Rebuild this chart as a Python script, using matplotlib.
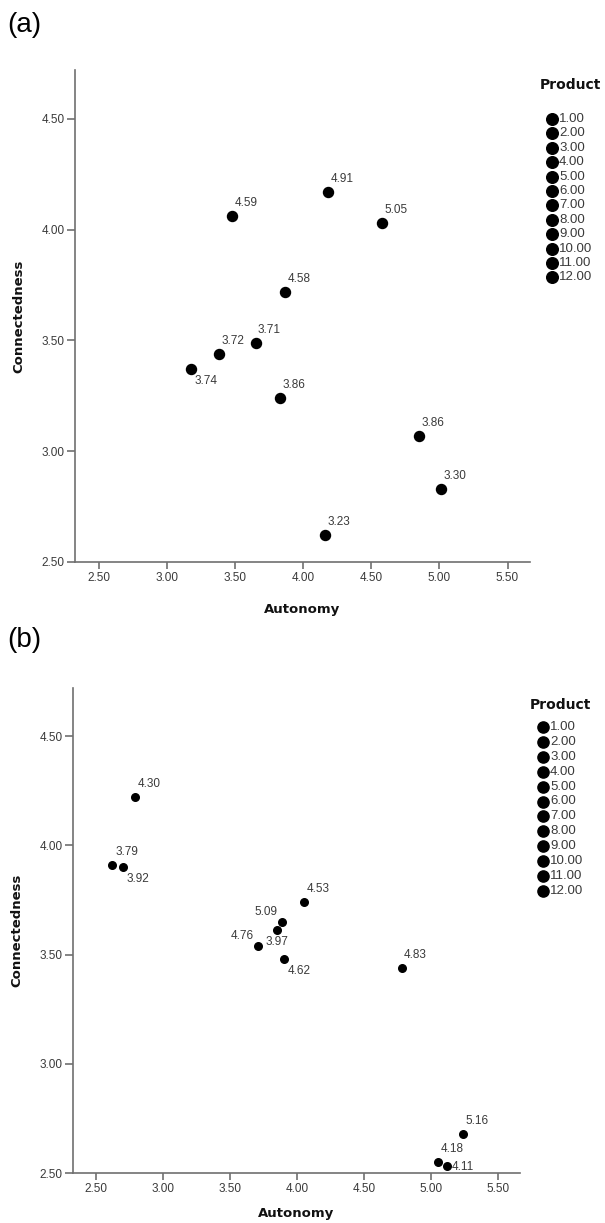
import matplotlib
matplotlib.use('Agg')
import matplotlib.pyplot as plt

# panel (a)
a_autonomy = [3.48, 4.18, 4.58, 3.87, 3.65, 3.38, 3.18, 3.83, 4.85, 5.01, 4.16]
a_connect = [4.06, 4.17, 4.03, 3.72, 3.49, 3.44, 3.37, 3.24, 3.07, 2.83, 2.62]
a_labels = ['4.59', '4.91', '5.05', '4.58', '3.71', '3.72', '3.74', '3.86', '3.86', '3.30', '3.23']
a_place = ['ur', 'ur', 'ur', 'ur', 'ur', 'ur', 'lr', 'ur', 'ur', 'ur', 'ur']

# panel (b)
b_autonomy = [2.79, 2.62, 2.70, 4.05, 3.89, 3.71, 3.85, 3.90, 4.78, 5.24, 5.05, 5.12]
b_connect = [4.22, 3.91, 3.90, 3.74, 3.65, 3.54, 3.61, 3.48, 3.44, 2.68, 2.55, 2.53]
b_labels = ['4.30', '3.79', '3.92', '4.53', '5.09', '4.76', '3.97', '4.62', '4.83', '5.16', '4.18', '4.11']
b_place = ['ur', 'ur', 'lr', 'ur', 'ul', 'ul', 'b', 'lr', 'ur', 'ur', 'ur', 'r']

products = ['%.2f' % p for p in range(1, 13)]
ticks = [2.5, 3.0, 3.5, 4.0, 4.5, 5.0, 5.5]

# label offsets in pixels (dx, dy up)
offs = {'ur': (14, 13), 'lr': (15, -12), 'ul': (-16, 10), 'b': (0, -12), 'r': (16, -1)}

W, H = 605, 1223
fig = plt.figure(figsize=(W / 100, H / 100), dpi=100)

def box(l, t, r, b):
    return [l / W, 1 - b / H, (r - l) / W, (b - t) / H]

axis_col = '#707070'
txt_col = '#3a3a3a'
num_font = 'Liberation Sans'

def panel(rect, xs, ys, labels, places, msize, tag, tag_y, xlab_y):
    ax = fig.add_axes(rect)
    ax.scatter(xs, ys, s=msize, color='black', zorder=3)
    for x, y, lab, p in zip(xs, ys, labels, places):
        dx, dy = offs[p]
        ax.annotate(lab, (x, y), xytext=(dx, dy), textcoords='offset pixels',
                    ha='center', va='center', fontsize=8.5, family=num_font,
                    color=txt_col)
    ax.set_xlim(2.325, 5.665)
    ax.set_ylim(2.5, 4.72)
    ax.set_xticks(ticks)
    ax.set_yticks(ticks[:5])
    ax.set_xticklabels(['%.2f' % t for t in ticks], family=num_font, fontsize=8.5, color=txt_col)
    ax.set_yticklabels(['%.2f' % t for t in ticks[:5]], family=num_font, fontsize=8.5, color=txt_col)
    for s in ['top', 'right']:
        ax.spines[s].set_visible(False)
    for s in ['left', 'bottom']:
        ax.spines[s].set_color(axis_col)
        ax.spines[s].set_linewidth(1.2)
    ax.tick_params(axis='x', length=5, width=1.2, color=axis_col, pad=2)
    ax.tick_params(axis='y', length=6, width=1.2, color=axis_col, pad=1.5)
    ax.set_xlabel('Autonomy', fontsize=9.5, fontweight='bold', color='#111111')
    ax.set_ylabel('Connectedness', fontsize=9.5, fontweight='bold', color='#111111')
    ax.xaxis.set_label_coords(0.5, xlab_y)
    ax.yaxis.set_label_coords(-0.11, 0.5)
    fig.text(7 / W, 1 - tag_y / H, tag, fontsize=20, family=num_font, va='center', ha='left')
    return ax

def legend(mx, first, step, title_xy, msize):
    top = first - step / 2
    bot = first + step * 11.5
    lax = fig.add_axes(box(mx - 12, top, W, bot))
    lax.set_xlim(-12, W - mx)
    lax.set_ylim(11.5, -0.5)
    lax.axis('off')
    idx = list(range(len(products)))
    lax.scatter([0] * len(idx), idx, s=msize, color='black', clip_on=False)
    for i, p in zip(idx, products):
        lax.text(7, i, p, fontsize=9.5, family=num_font, color=txt_col, va='center', ha='left')
    fig.text(title_xy[0] / W, 1 - title_xy[1] / H, 'Product', fontsize=10,
             fontweight='bold', ha='center', va='center', color='#111111')

panel(box(75, 70, 530, 562), a_autonomy, a_connect, a_labels, a_place, 52, '(a)', 25, -0.083)
legend(552, 119, 14.4, (570, 85), 70)

panel(box(73, 688, 520, 1173), b_autonomy, b_connect, b_labels, b_place, 30, '(b)', 640, -0.07)
legend(543, 727, 14.9, (560, 705), 65)

fig.savefig('out.png', dpi=100)
